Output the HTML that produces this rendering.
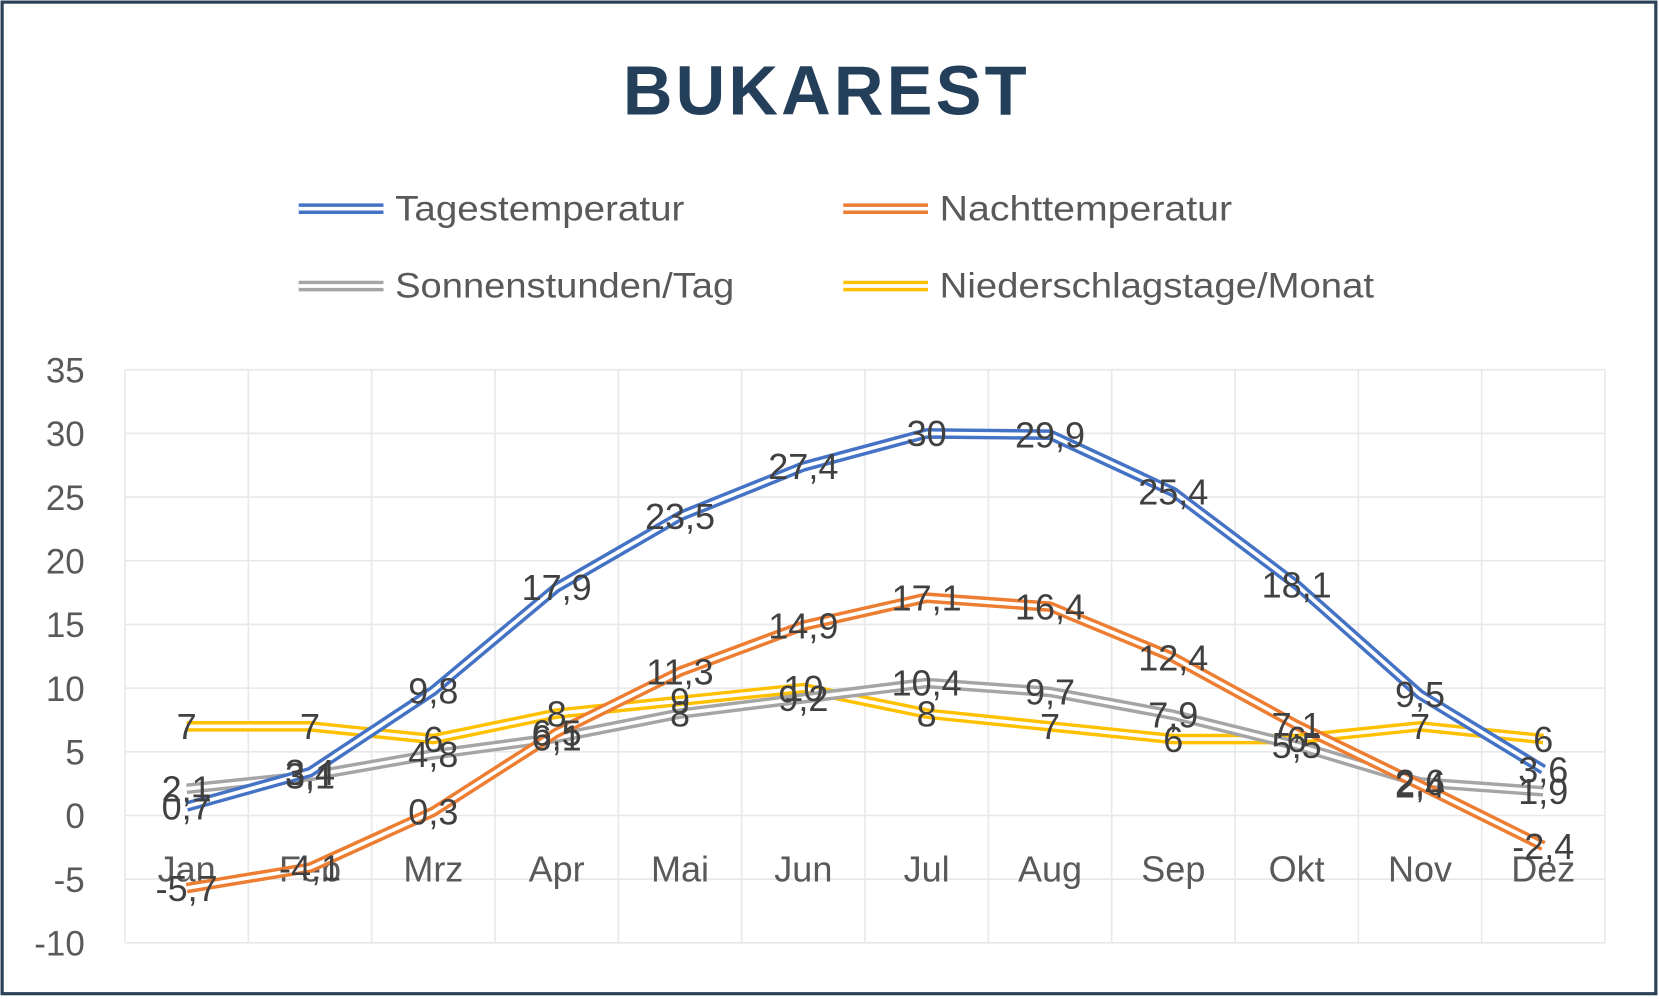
<!DOCTYPE html>
<html><head><meta charset="utf-8"><style>
html,body{margin:0;padding:0;background:#fff;}
svg{display:block;font-family:"Liberation Sans",sans-serif;}
</style></head><body>
<svg id="chart" width="1659" height="999" viewBox="0 0 1566 943" preserveAspectRatio="none">
<rect x="2" y="2" width="1561" height="936" fill="#fff" stroke="#2b4159" stroke-width="3"/>
<text x="780" y="108" text-anchor="middle" font-size="66" font-weight="bold" fill="#243f5a" letter-spacing="3" textLength="384" lengthAdjust="spacingAndGlyphs">BUKAREST</text>
<g id="legend"></g>
<g id="grid"></g>
<g id="yaxis"></g>
<g id="xaxis"></g>
<g id="series"></g>
<g id="labels"></g>
</svg>
<script>
const months = ["Jan","Feb","Mrz","Apr","Mai","Jun","Jul","Aug","Sep","Okt","Nov","Dez"];
const tages = [0.7,3.4,9.8,17.9,23.5,27.4,30,29.9,25.4,18.1,9.5,3.6];
const nacht = [-5.7,-4.1,0.3,6.5,11.3,14.9,17.1,16.4,12.4,7.1,2.4,-2.4];
const sonnen = [2.1,3.1,4.8,6.1,8,9.2,10.4,9.7,7.9,5.5,2.6,1.9];
const nieder = [7,7,6,8,9,10,8,7,6,6,7,6];
const yTicks = [35,30,25,20,15,10,5,0,-5,-10];
const seriesNames = ["Tagestemperatur","Nachttemperatur","Sonnenstunden/Tag","Niederschlagstage/Monat"];

const NS="http://www.w3.org/2000/svg";
const L=118,R=1515,T=349,B=890,yMax=35,yMin=-10;
const bw=(R-L)/months.length;
const x=i=>L+bw*(i+0.5);
const y=v=>T+(yMax-v)/(yMax-yMin)*(B-T);
function mk(tag,attrs,parent){const e=document.createElementNS(NS,tag);for(const k in attrs)e.setAttribute(k,attrs[k]);parent.appendChild(e);return e;}

const grid=document.getElementById('grid');
yTicks.forEach(t=>{
  const l=mk('line',{x1:L,x2:R,y1:y(t),y2:y(t),stroke:'#e8e8e8','stroke-width':1.5},grid);
  
  
});
for(let i=0;i<=months.length;i++){
  const l=mk('line',{x1:L+bw*i,x2:L+bw*i,y1:T,y2:B,stroke:'#e8e8e8','stroke-width':1.5},grid);
  
  
}
const ya=document.getElementById('yaxis');
yTicks.forEach(t=>{
  const e=mk('text',{x:80,y:y(t)+12,'text-anchor':'end','font-size':33,fill:'#595959'},ya);
  e.textContent=String(t);
  
  
});
const xa=document.getElementById('xaxis');
months.forEach((m,i)=>{
  const e=mk('text',{x:x(i),y:832,'text-anchor':'middle','font-size':34,fill:'#595959'},xa);
  e.textContent=m;
  
  
});

const colors=["#4472c4","#ed7d31","#a5a5a5","#ffc000"];
const allData=[tages,nacht,sonnen,nieder];
const sg=document.getElementById('series'), lg=document.getElementById('labels');
[3,2,1,0].forEach(k=>{
  const pts=allData[k].map((v,i)=>x(i)+','+y(v)).join(' ');
  const g=mk('g',{},sg);
  
  
  mk('polyline',{points:pts,fill:'none',stroke:colors[k],'stroke-width':10,'stroke-linejoin':'round'},g);
  mk('polyline',{points:pts,fill:'none',stroke:'#fff','stroke-width':3.5,'stroke-linejoin':'round'},g);
});
[0,1,2,3].forEach(k=>{
  allData[k].forEach((v,i)=>{
    const e=mk('text',{x:x(i),y:y(v)+12,'text-anchor':'middle','font-size':34,fill:'#404040'},lg);
    e.textContent=String(v).replace('.',',');
    
    
  });
});

const leg=document.getElementById('legend');
const lpos=[[282,197],[796,197],[282,270],[796,270]];
const lwid=[273,276,320,410];
seriesNames.forEach((n,k)=>{
  const g=mk('g',{},leg);
  
  
  const [lx,ly]=lpos[k];
  mk('line',{x1:lx,x2:lx+80,y1:ly,y2:ly,stroke:colors[k],'stroke-width':10},g);
  mk('line',{x1:lx,x2:lx+80,y1:ly,y2:ly,stroke:'#fff','stroke-width':3.5},g);
  const t=mk('text',{x:lx+91,y:ly+11,'font-size':33,fill:'#595959',textLength:lwid[k],lengthAdjust:'spacingAndGlyphs'},g);
  t.textContent=n;
});
</script>
</body></html>
